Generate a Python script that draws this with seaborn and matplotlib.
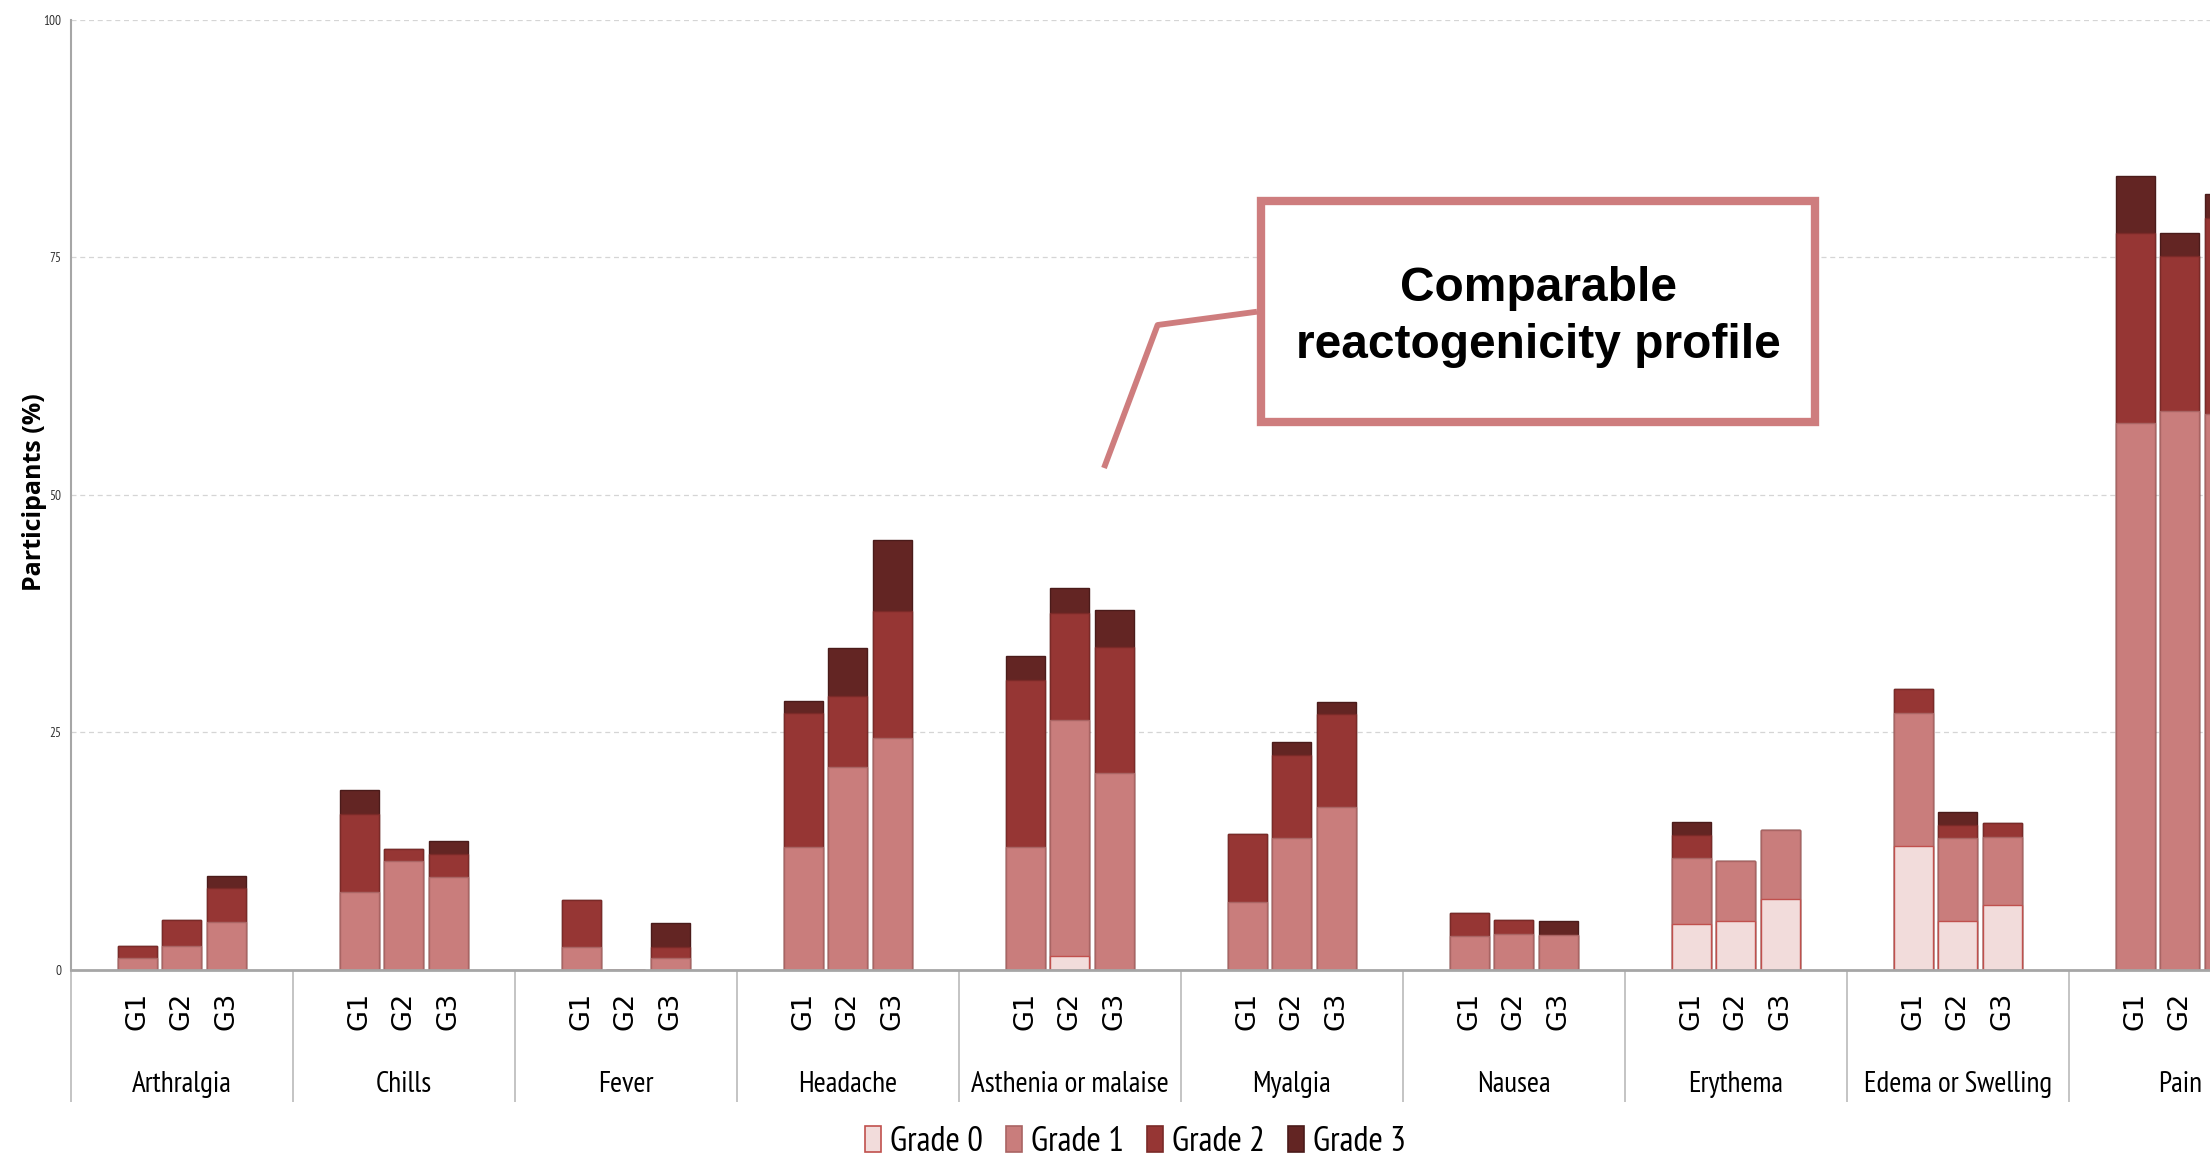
import numpy as np
import pandas as pd
import matplotlib
matplotlib.use("Agg")
import matplotlib.pyplot as plt
import seaborn as sns
from matplotlib.patches import Patch, Rectangle
from matplotlib.lines import Line2D

# Data (percent of participants), bars ordered by category, G1-G3 inside each
categories = ["Arthralgia", "Chills", "Fever", "Headache", "Asthenia or malaise",
              "Myalgia", "Nausea", "Erythema", "Edema or Swelling", "Pain"]
groups = ["G1", "G2", "G3"]
grades = ["Grade 0", "Grade 1", "Grade 2", "Grade 3"]

grade0 = [0, 0, 0, 0, 0, 0, 0, 0, 0, 0, 0, 0, 0, 1.4, 0,
          0, 0, 0, 0, 0, 0, 4.8, 5.1, 7.4, 13.0, 5.1, 6.8, 0, 0, 0]
grade1 = [1.2, 2.5, 5.0, 8.2, 11.4, 9.8, 2.4, 0, 1.2, 12.9, 21.3, 24.4, 12.9, 24.9, 20.7,
          7.1, 13.9, 17.1, 3.5, 3.8, 3.7, 7.0, 6.3, 7.3, 14.0, 8.8, 7.2, 57.6, 58.8, 58.5]
grade2 = [1.3, 2.7, 3.6, 8.2, 1.3, 2.4, 4.9, 0, 1.2, 14.1, 7.5, 13.4, 17.6, 11.3, 13.3,
          7.2, 8.7, 9.8, 2.5, 1.4, 0, 2.4, 0, 0, 2.5, 1.3, 1.4, 19.9, 16.3, 20.6]
grade3 = [0, 0, 1.3, 2.5, 0, 1.3, 0, 0, 2.5, 1.3, 5.1, 7.4, 2.5, 2.6, 3.9,
          0, 1.4, 1.3, 0, 0, 1.4, 1.4, 0, 0, 0, 1.4, 0, 6.1, 2.5, 2.6]

colors = ["#F2DCDB", "#C97D7C", "#963634", "#632523"]
edges = ["#C0504D", "#A96463", "#7A2A28", "#4A1B1A"]

df = pd.DataFrame({
    "category": np.repeat(categories, len(groups)),
    "group": groups * len(categories),
    "Grade 0": grade0, "Grade 1": grade1, "Grade 2": grade2, "Grade 3": grade3,
})
cum = df[grades].cumsum(axis=1)
for g in grades:
    df["top " + g] = cum[g]

W, H = 2210, 1157
sns.set_style("white")
narrow = ["PT Sans Narrow", "Liberation Sans", "DejaVu Sans"]
plt.rcParams["font.family"] = narrow
for key in ["text.color", "axes.labelcolor", "xtick.color", "ytick.color"]:
    plt.rcParams[key] = "black"

fig = plt.figure(figsize=(W / 100, H / 100), dpi=100)
# plot area runs past the right edge of the picture, as in the source slide
ax_left, ax_w = 70.8, 2220
ax = fig.add_axes([ax_left / W, (H - 969.7) / H, ax_w / W, 950 / H])

bar_width = 0.6
for k in reversed(range(len(grades))):
    sns.barplot(data=df, x="category", y="top " + grades[k], hue="group",
                order=categories, hue_order=groups,
                palette={g: colors[k] for g in groups}, saturation=1,
                width=bar_width, gap=0.12, errorbar=None, legend=False,
                edgecolor=edges[k], linewidth=1, ax=ax)

n = len(categories)
ax.set_xlim(-0.5, n - 0.5)
ax.set_ylim(0, 100)
ax.set_yticks([0, 25, 50, 75, 100])

offsets = (np.arange(len(groups)) - 1) * bar_width / len(groups)
pos = (np.arange(n)[:, None] + offsets[None, :]).ravel()
# labels whose position falls past the picture edge stay blank, like the source
pos_px = ax_left + (pos + 0.5) / n * ax_w
glabels = [g if p + 12 < W else "" for g, p in zip(groups * n, pos_px)]
ax.xaxis.remove_overlapping_locs = False
ax.set_xticks(pos)
ax.set_xticklabels(glabels, family="DejaVu Sans", fontsize=19.5, rotation=90)
ax.set_xticks(np.arange(n), minor=True)
ax.set_xticklabels(categories, minor=True, fontsize=21)
ax.tick_params(axis="x", which="major", length=0, pad=16)
ax.tick_params(axis="x", which="minor", length=0, pad=73)
ax.tick_params(axis="y", length=2.5, width=1, color="#A6A6A6", pad=4.5,
               labelsize=9.5, labelcolor="#303030")

ax.set_xlabel("")
ax.set_ylabel("Participants (%)", family="Open Sans", fontweight="bold", fontsize=18)
ax.yaxis.set_label_coords(-0.0105, 0.503)

ax.yaxis.grid(True, linestyle=(0, (4, 3)), color="#D5D5D5", linewidth=0.9)
ax.set_axisbelow(True)
for s in ["top", "right"]:
    ax.spines[s].set_visible(False)
ax.spines["left"].set_color("#A6A6A6")
ax.spines["left"].set_linewidth(1.5)
ax.spines["bottom"].set_color("#A6A6A6")
ax.spines["bottom"].set_linewidth(2)

# category separators below the axis
ax.vlines(np.arange(n + 1) - 0.5, -13.9, 0, colors="#BFBFBF", linewidth=1.3,
          clip_on=False)

handles = [Patch(facecolor=colors[k], edgecolor=edges[k], linewidth=1.2)
           for k in range(len(grades))]
fig.legend(handles, grades, loc="center", bbox_to_anchor=(0.5138, 1 - 1142 / H),
           ncol=4, frameon=False, fontsize=25, handlelength=0.46,
           handleheight=0.78, handletextpad=0.25, columnspacing=0.67,
           borderaxespad=0, borderpad=0)


def fx(x, y):
    return x / W, 1 - y / H


# callout
callout = "#CE7D7E"
x0, y0 = fx(1261, 422)
x1, y1 = fx(1815, 201)
fig.patches.append(Rectangle((x0, y0), x1 - x0, y1 - y0, transform=fig.transFigure,
                             facecolor="white", edgecolor=callout, linewidth=6,
                             zorder=5))
px, py = zip(fx(1257, 311.7), fx(1157.6, 325), fx(1104, 468))
fig.lines.append(Line2D(px, py, transform=fig.transFigure, color=callout,
                        linewidth=4.2, solid_capstyle="butt", zorder=5))
tx, ty = fx(1538, 317)
fig.text(tx, ty, "Comparable\nreactogenicity profile",
         ha="center", va="center", family="Liberation Sans", fontweight="bold",
         fontsize=34.5, linespacing=1.33, zorder=6)

fig.savefig("out.png", dpi=100)
